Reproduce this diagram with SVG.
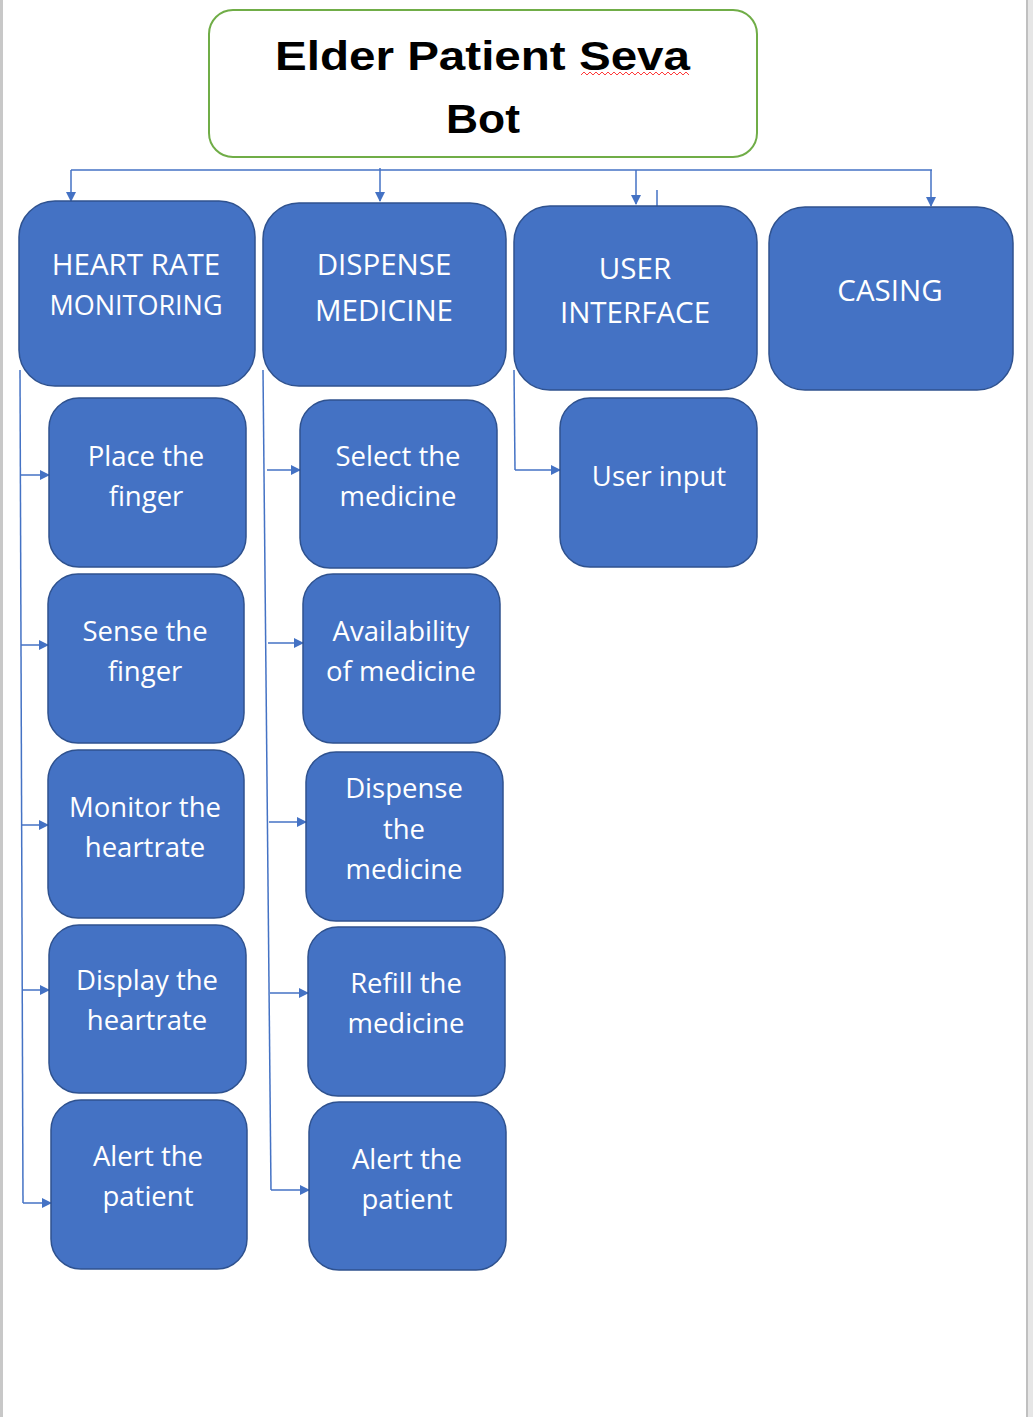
<svg xmlns="http://www.w3.org/2000/svg" width="1033" height="1417" viewBox="0 0 1033 1417">
<defs>
<marker id="ah" viewBox="0 0 10 10" refX="9" refY="5" markerWidth="10" markerHeight="10" markerUnits="userSpaceOnUse" orient="auto">
<path d="M0,0 L10,5 L0,10 z" fill="#4472C4"/>
</marker>
<style>
.node rect{fill:#4472C4;stroke:#2F528F;stroke-width:1.5}
.node text{fill:#FFFFFF;font-family:"Open Sans","Noto Sans",sans-serif;font-size:27.5px;text-anchor:middle}
.head text{font-size:29.5px}
.head text.small{font-size:27px}
.conn path{fill:none;stroke:#4472C4;stroke-width:1.5}
.arr{marker-end:url(#ah)}
.ttl{font-family:"Liberation Sans",Arial,sans-serif;font-weight:bold;font-size:41px;fill:#000000}
</style>
</defs>
<rect x="0" y="0" width="1033" height="1417" fill="#FFFFFF"/>
<rect x="0" y="0" width="3" height="1417" fill="#C8C8C8"/>
<rect x="1026" y="0" width="7" height="1417" fill="#E6E6E6"/>
<rect x="1026" y="0" width="2" height="1417" fill="#C0C0C0"/>

<g id="title">
<rect x="209" y="10" width="548" height="147" rx="24" fill="#FFFFFF" stroke="#70AD47" stroke-width="2"/>
<text class="ttl" x="275" y="70" textLength="415" lengthAdjust="spacingAndGlyphs">Elder Patient Seva</text>
<text class="ttl" x="446" y="133" textLength="74" lengthAdjust="spacingAndGlyphs">Bot</text>
<path d="M581,75 l3,-3 l3,3 l3,-3 l3,3 l3,-3 l3,3 l3,-3 l3,3 l3,-3 l3,3 l3,-3 l3,3 l3,-3 l3,3 l3,-3 l3,3 l3,-3 l3,3 l3,-3 l3,3 l3,-3 l3,3 l3,-3 l3,3 l3,-3 l3,3 l3,-3 l3,3 l3,-3 l3,3 l3,-3 l3,3 l3,-3 l3,3 l3,-3 l3,3" fill="none" stroke="#FF3B3B" stroke-width="1"/>
</g>

<g id="connectors" class="conn">
<path d="M71,170 H932"/>
<path class="arr" d="M71,170 V201"/>
<path class="arr" d="M380,168 V201"/>
<path class="arr" d="M636,170 V204"/>
<path class="arr" d="M931,170 V206"/>
<path d="M657,190 V206"/>
<path d="M20,370 L23,1203"/>
<path class="arr" d="M20,475 H49"/>
<path class="arr" d="M21,645 H48"/>
<path class="arr" d="M21,825 H48"/>
<path class="arr" d="M22,990 H49"/>
<path class="arr" d="M23,1203 H51"/>
<path d="M263,370 L271,1190"/>
<path class="arr" d="M267,470 H300"/>
<path class="arr" d="M268,643 H303"/>
<path class="arr" d="M269,822 H306"/>
<path class="arr" d="M270,993 H308"/>
<path class="arr" d="M271,1190 H309"/>
<path d="M514,370 L515,470"/>
<path class="arr" d="M515,470 H560"/>
</g>

<g id="heart-rate-monitoring" class="node head">
<rect x="19" y="201" width="236" height="185" rx="36"/>
<text x="136" y="275">HEART RATE</text>
<text class="small" x="136" y="315">MONITORING</text>
</g>
<g id="dispense-medicine" class="node head">
<rect x="263" y="203" width="243" height="183" rx="36"/>
<text x="384" y="275">DISPENSE</text>
<text x="384" y="321">MEDICINE</text>
</g>
<g id="user-interface" class="node head">
<rect x="514" y="206" width="243" height="184" rx="36"/>
<text x="635" y="279">USER</text>
<text x="635" y="323">INTERFACE</text>
</g>
<g id="casing" class="node head">
<rect x="769" y="207" width="244" height="183" rx="36"/>
<text x="890" y="301">CASING</text>
</g>

<g id="place-finger" class="node">
<rect x="49" y="398" width="197" height="169" rx="30"/>
<text x="146" y="466">Place the</text>
<text x="146" y="506">finger</text>
</g>
<g id="sense-finger" class="node">
<rect x="48" y="574" width="196" height="169" rx="30"/>
<text x="145" y="641">Sense the</text>
<text x="145" y="681">finger</text>
</g>
<g id="monitor-heartrate" class="node">
<rect x="48" y="750" width="196" height="168" rx="30"/>
<text x="145" y="817">Monitor the</text>
<text x="145" y="857">heartrate</text>
</g>
<g id="display-heartrate" class="node">
<rect x="49" y="925" width="197" height="168" rx="30"/>
<text x="147" y="990">Display the</text>
<text x="147" y="1030">heartrate</text>
</g>
<g id="alert-patient-1" class="node">
<rect x="51" y="1100" width="196" height="169" rx="30"/>
<text x="148" y="1166">Alert the</text>
<text x="148" y="1206">patient</text>
</g>

<g id="select-medicine" class="node">
<rect x="300" y="400" width="197" height="168" rx="30"/>
<text x="398" y="466">Select the</text>
<text x="398" y="506">medicine</text>
</g>
<g id="availability-medicine" class="node">
<rect x="303" y="574" width="197" height="169" rx="30"/>
<text x="401" y="641">Availability</text>
<text x="401" y="681">of medicine</text>
</g>
<g id="dispense-the-medicine" class="node">
<rect x="306" y="752" width="197" height="169" rx="30"/>
<text x="404" y="798">Dispense</text>
<text x="404" y="839">the</text>
<text x="404" y="879">medicine</text>
</g>
<g id="refill-medicine" class="node">
<rect x="308" y="927" width="197" height="169" rx="30"/>
<text x="406" y="993">Refill the</text>
<text x="406" y="1033">medicine</text>
</g>
<g id="alert-patient-2" class="node">
<rect x="309" y="1102" width="197" height="168" rx="30"/>
<text x="407" y="1169">Alert the</text>
<text x="407" y="1209">patient</text>
</g>

<g id="user-input" class="node">
<rect x="560" y="398" width="197" height="169" rx="30"/>
<text x="659" y="486">User input</text>
</g>
</svg>
